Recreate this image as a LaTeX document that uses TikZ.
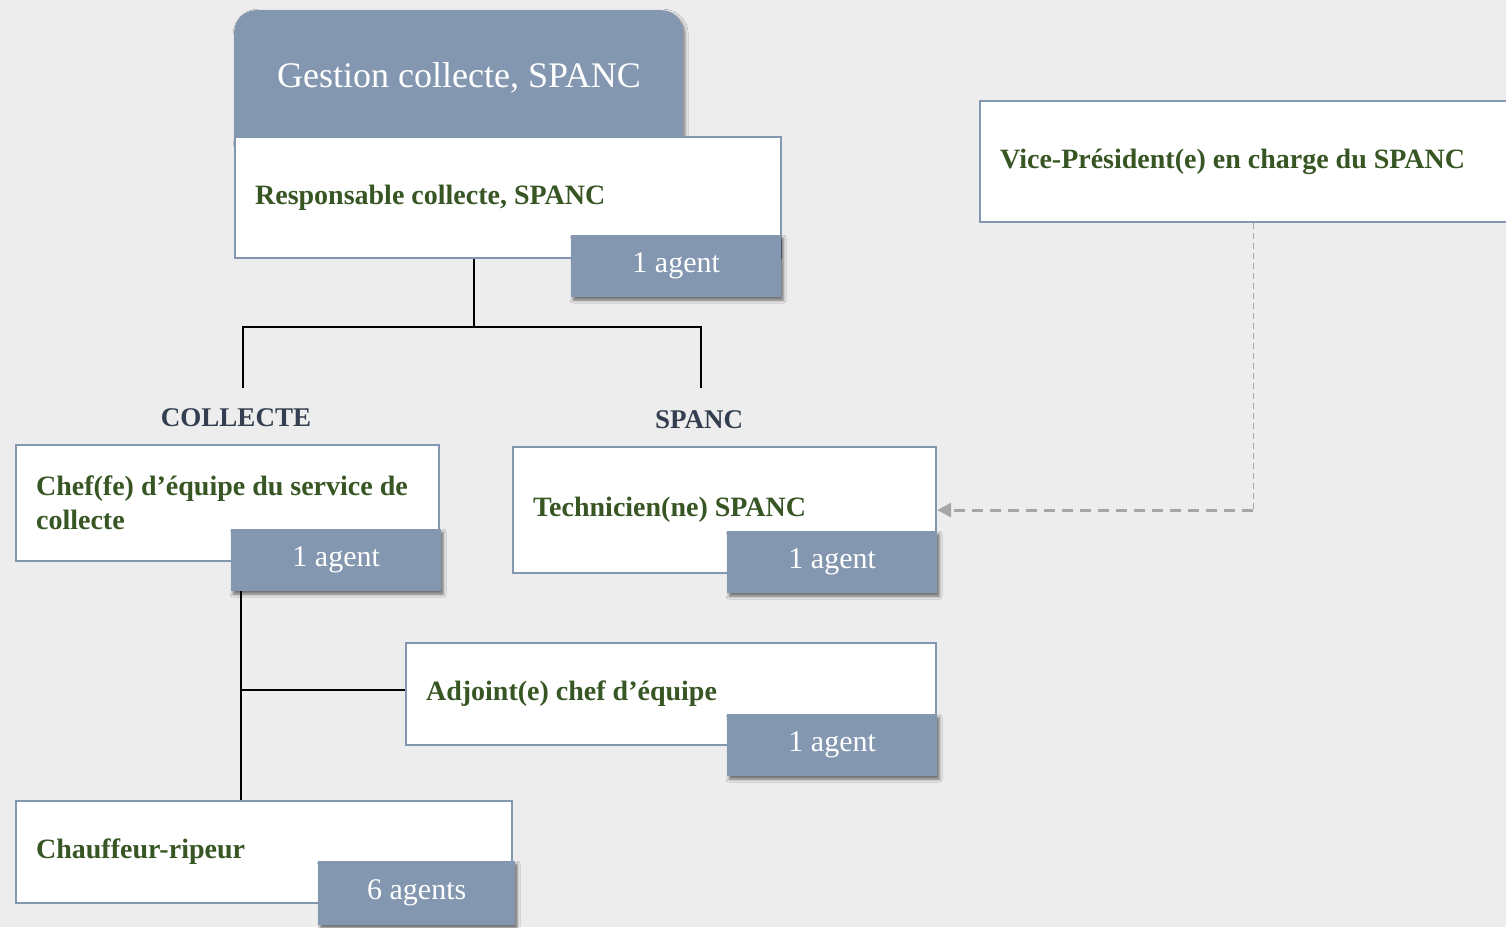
\documentclass[tikz,border=0pt]{standalone}
\usepackage{fontspec}
\setmainfont{Liberation Serif}
\usetikzlibrary{shadows.blur,arrows.meta}

\definecolor{bg}{HTML}{EDEDED}
\definecolor{slate}{HTML}{8497B0}
\definecolor{leaf}{HTML}{375623}
\definecolor{ink}{HTML}{333F50}
\definecolor{dashgray}{HTML}{A6A6A6}

\tikzset{
  head/.style={fill=slate, rounded corners=22pt, anchor=north west,
    minimum width=449pt, minimum height=150pt,
    blur shadow={shadow xshift=2pt, shadow yshift=-2pt, shadow blur radius=3pt, shadow opacity=45}},
  post/.style={draw=slate, line width=2.2pt, fill=white, anchor=north west,
    align=flush left, inner xsep=20pt, text=leaf,
    font=\fontsize{28}{34}\selectfont\bfseries},
  staff/.style={fill=slate, anchor=north west, minimum width=210pt,
    minimum height=62pt, text=white, font=\fontsize{30}{34}\selectfont,
    blur shadow={shadow xshift=2pt, shadow yshift=-3pt, shadow blur radius=3pt, shadow opacity=55}},
  team/.style={text=ink, font=\fontsize{27}{30}\selectfont\bfseries},
  link/.style={line width=2.5pt}
}

\begin{document}
\begin{tikzpicture}[x=1pt,y=-1pt]
  \useasboundingbox (0,0) rectangle (1506,927);
  \fill[bg] (0,0) rectangle (1506,927);

  % top of the tree
  \node[head] (gest) at (234,10) {};
  \node[text=white, font=\fontsize{36}{40}\selectfont] (gesttxt) at (459,78) {Gestion collecte, SPANC};
  \node[post, minimum height=121pt, text width=506pt] (resp) at (234,136) {Responsable collecte, SPANC};
  \node[staff] (respnb) at (571,235) {1 agent};

  \coordinate (fork) at (474,327);
  \coordinate (lft) at (243,388);
  \coordinate (rgt) at (701,388);
  \draw[link] (resp.south -| fork) -- (fork);
  \draw[link] (lft) |- (fork) -| (rgt);

  \node[team] (coll) at (236,418) {COLLECTE};
  \node[team] (span) at (699,420) {SPANC};

  % collecte side
  \coordinate (trunk) at (241,690);
  \draw[link] (241,590) -- (241,800);

  \node[post, minimum height=116pt, text width=383pt] (chef) at (15,444) {Chef(fe) d’équipe du service de\\collecte};
  \node[staff] (chefnb) at (231,529) {1 agent};
  \node[post, minimum height=102pt, text width=490pt] (adj) at (405,642) {Adjoint(e) chef d’équipe};
  \node[staff] (adjnb) at (727,714) {1 agent};
  \node[post, minimum height=102pt, text width=456pt] (chauf) at (15,800) {Chauffeur-ripeur};
  \node[staff, minimum width=197pt, minimum height=64pt] (chaufnb) at (318,861) {6 agents};
  \draw[link] (trunk) -- (trunk -| adj.west);

  % spanc side
  \node[post, minimum height=126pt, text width=383pt] (tech) at (512,446) {Technicien(ne) SPANC};
  \node[staff] (technb) at (727,531) {1 agent};
  \node[post, minimum height=121pt, text width=506pt] (vp) at (979,100) {Vice-Président(e) en charge du SPANC};

  \coordinate (bend) at (vp.south |- tech.east);
  \draw[dashgray, line width=1pt, dash pattern=on 6pt off 4pt] (vp.south) -- (bend);
  \draw[dashgray, line width=3pt, dash pattern=on 11pt off 7pt,
    -{Triangle[length=14pt,width=14pt]}] (bend) -- (tech.east);
\end{tikzpicture}
\end{document}
